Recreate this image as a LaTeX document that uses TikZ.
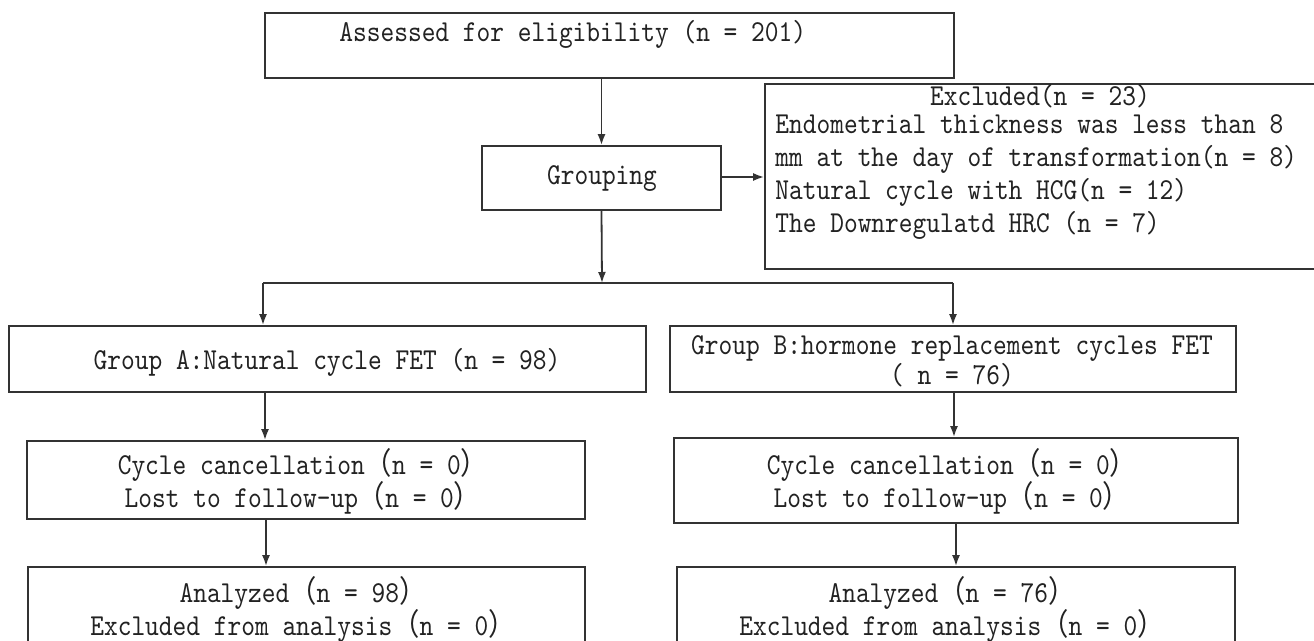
\documentclass[tikz,border=0pt]{standalone}
\usepackage{fontspec}
\setmainfont{lmmono10-regular.otf}[FakeStretch=0.86]
\newfontfamily\cjk{Noto Sans CJK SC}[FakeStretch=0.9]
\usetikzlibrary{arrows.meta,fit}
\newcommand{\flp}{{\cjk （}}
\newcommand{\frp}{{\cjk ）}}
\definecolor{linec}{HTML}{333333}
\definecolor{textc}{HTML}{222222}
\begin{document}
\begin{tikzpicture}[x=0.5pt,y=-0.5pt,
  box/.style={draw=linec, line width=0.9pt, inner sep=0pt, rectangle},
  conn/.style={draw=linec, line width=0.9pt},
  arr/.style={draw=linec, line width=0.9pt, -{Latex[length=5.5pt,width=4pt]}},
  txt/.style={text=textc, font=\fontsize{15.2}{16.5}\selectfont, inner sep=0pt, align=center},
  txtl/.style={txt, align=left}]
\useasboundingbox (0,0) rectangle (1314,641);
\clip (0,0) rectangle (1314,641);
\fill[white] (0,0) rectangle (1314,641);

% boxes
\node[box, fit={(265,13)(954,78)}] (top) {};
\node[box, fit={(482,146)(721,210)}] (grp) {};
\node[box, fit={(765,84)(1340,269)}] (exc) {};
\node[box, fit={(9,326)(646,392)}] (ga) {};
\node[box, fit={(670,326)(1236,392)}] (gb) {};
\node[box, fit={(27,441)(585,519)}] (a2) {};
\node[box, fit={(674,438)(1238,523)}] (b2) {};
\node[box, fit={(28,567)(585,700)}] (a3) {};
\node[box, fit={(677,567)(1235,700)}] (b3) {};

% texts
\node[txt, anchor=west] (toptxt) at (339,34) {Assessed for eligibility (n = 201)};
\node[txt] (grptxt) at (602,179) {Grouping};
\node[txt] (exctitle) at (1040,96) {Excluded(n = 23)};
\node[txtl, anchor=west] (excbody) at (775,177) {Endometrial thickness was less than 8\\mm at the day of transformation(n = 8)\\Natural cycle with HCG(n = 12)\\The Downregulatd HRC (n = 7)};
\node[txt] (gatxt) at (327,362) {Group A:Natural cycle FET (n = 98)};
\node[txt, font=\fontsize{15.2}{14}\selectfont] (gbtxt) at (952,361) {Group B:hormone replacement cycles FET\\( n = 76)};
\node[txt] (a2txt) at (303,481) {Cycle cancellation\flp n = 0\frp\\Lost to follow-up\flp n = 0\frp};
\node[txt] (b2txt) at (952,481) {Cycle cancellation\flp n = 0\frp\\Lost to follow-up\flp n = 0\frp};
\node[txt] (a3txt) at (303,609) {Analyzed\flp n = 98\frp\\Excluded from analysis\flp n = 0\frp};
\node[txt] (b3txt) at (952,609) {Analyzed\flp n = 76\frp\\Excluded from analysis\flp n = 0\frp};

% connectors
\coordinate (j) at (602,283);
\coordinate (jl) at (263,283);
\coordinate (jr) at (953,283);
\coordinate (xa1) at (265,0);
\coordinate (xa2) at (266,0);
\coordinate (xb1) at (954,0);
\coordinate (xb2) at (956,0);
\draw[arr] (top.south -| grp.north) -- (grp.north);
\draw[arr] (grp.east |- 0,177) -- (exc.west |- 0,177);
\draw[arr] (grp.south) -- (j);
\draw[conn] (jl) -- (jr);
\draw[arr] (jl) -- (jl |- ga.north);
\draw[arr] (jr) -- (jr |- gb.north);
\draw[arr] (xa1 |- ga.south) -- (xa1 |- a2.north);
\draw[arr] (xa2 |- a2.south) -- (xa2 |- a3.north);
\draw[arr] (xb1 |- gb.south) -- (xb1 |- b2.north);
\draw[arr] (xb2 |- b2.south) -- (xb2 |- b3.north);
\end{tikzpicture}
\end{document}
